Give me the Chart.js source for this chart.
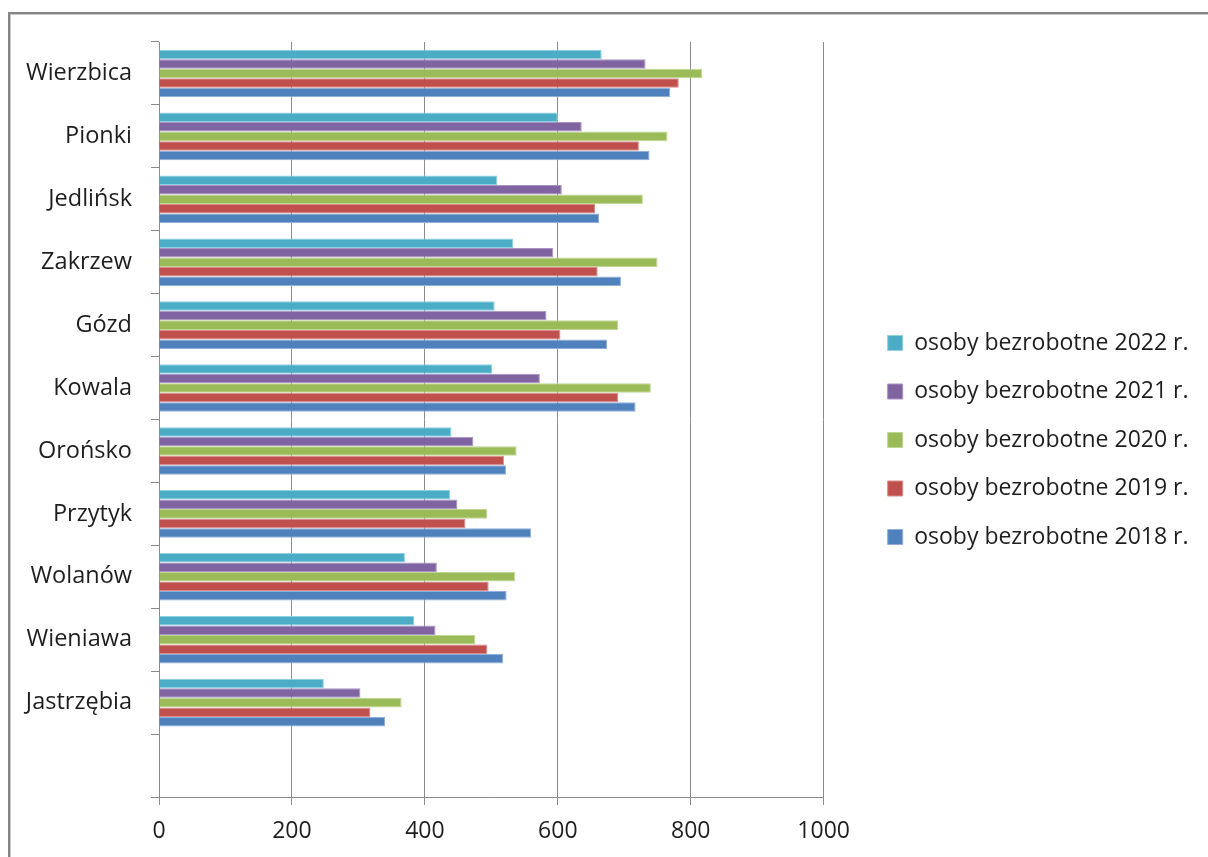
<!DOCTYPE html>
<html lang="pl">
<head>
<meta charset="utf-8">
<title>Osoby bezrobotne w gminach</title>
<script src="https://cdn.jsdelivr.net/npm/chart.js@4.4.1/dist/chart.umd.min.js"></script>
<style>
  html, body { margin: 0; padding: 0; background: #fff; overflow: hidden; }
  #frame {
    position: absolute; left: 8px; top: 12px; width: 1300px; height: 1000px;
    border: 2px solid #858585; box-shadow: inset 1px 1px 0 #c8c8c8;
  }
  #wrap { position: absolute; left: 0; top: 0; width: 1208px; height: 857px; }
</style>
</head>
<body>
<div id="frame"></div>
<div id="wrap"><canvas id="chart"></canvas></div>
<script>
// gminy, od góry; ostatnia pozycja pusta (tak jak w oryginale)
const gminy = ["Wierzbica", "Pionki", "Jedlińsk", "Zakrzew", "Gózd", "Kowala",
  "Orońsko", "Przytyk", "Wolanów", "Wieniawa", "Jastrzębia", ""];

const bezrobotne2022 = [666, 600, 509, 533, 505, 501, 440, 438, 370, 384, 248, null];
const bezrobotne2021 = [732, 636, 606, 593, 583, 573, 473, 449, 418, 416, 303, null];
const bezrobotne2020 = [817, 765, 728, 750, 691, 740, 538, 494, 536, 476, 365, null];
const bezrobotne2019 = [782, 722, 656, 660, 604, 691, 519, 461, 496, 494, 318, null];
const bezrobotne2018 = [769, 738, 662, 695, 674, 717, 522, 560, 523, 518, 340, null];

const xTicks = [0, 200, 400, 600, 800, 1000];

const AXIS_GRAY = "#8c8c8c";
const TEXT = "#1e1e1e";
const FONT = "'Open Sans', Lato, sans-serif";

function serie(label, data, fill, edge) {
  return {
    label,
    data,
    backgroundColor: fill,
    borderColor: edge,
    borderWidth: 1,
    categoryPercentage: 0.755,
    barPercentage: 1,
  };
}

new Chart(document.getElementById("chart"), {
  type: "bar",
  data: {
    labels: gminy,
    datasets: [
      serie("osoby bezrobotne 2022 r.", bezrobotne2022, "#4bacc6", "#8fd0e2"),
      serie("osoby bezrobotne 2021 r.", bezrobotne2021, "#8064a2", "#a893c2"),
      serie("osoby bezrobotne 2020 r.", bezrobotne2020, "#9bbb59", "#c0d894"),
      serie("osoby bezrobotne 2019 r.", bezrobotne2019, "#c0504d", "#dc8b89"),
      serie("osoby bezrobotne 2018 r.", bezrobotne2018, "#4f81bd", "#8fb0da"),
    ],
  },
  options: {
    indexAxis: "y",
    responsive: true,
    maintainAspectRatio: false,
    animation: false,
    layout: { padding: { left: 0, top: 42, right: 9.5, bottom: 19 } },
    plugins: {
      tooltip: { enabled: false },
      legend: {
        position: "right",
        maxWidth: 420,
        labels: {
          boxWidth: 15,
          boxHeight: 15,
          padding: 25.5,
          color: TEXT,
          font: { family: FONT, size: 23 },
        },
      },
    },
    scales: {
      x: {
        min: 0,
        max: 1000,
        afterBuildTicks: (scale) => {
          scale.ticks = xTicks.map((v) => ({ value: v }));
        },
        afterFit: (scale) => {
          scale.height = 41;
        },
        grid: { color: AXIS_GRAY, lineWidth: 1, tickLength: 8 },
        border: { color: AXIS_GRAY, width: 1 },
        ticks: {
          color: TEXT,
          padding: 13,
          font: { family: FONT, size: 23 },
          callback: (value) => String(value),
        },
      },
      y: {
        afterFit: (scale) => {
          scale.width = 159;
        },
        grid: { drawOnChartArea: false, color: AXIS_GRAY, tickLength: 8 },
        border: { color: AXIS_GRAY, width: 1 },
        ticks: { color: TEXT, padding: 19, font: { family: FONT, size: 23.5 } },
      },
      // pusty odstęp między obszarem wykresu a legendą
      gap: {
        type: "category",
        position: "right",
        grid: { display: false },
        border: { display: false },
        ticks: { display: false },
        afterFit: (scale) => {
          scale.width = 38.5;
        },
      },
    },
  },
});
</script>
</body>
</html>
